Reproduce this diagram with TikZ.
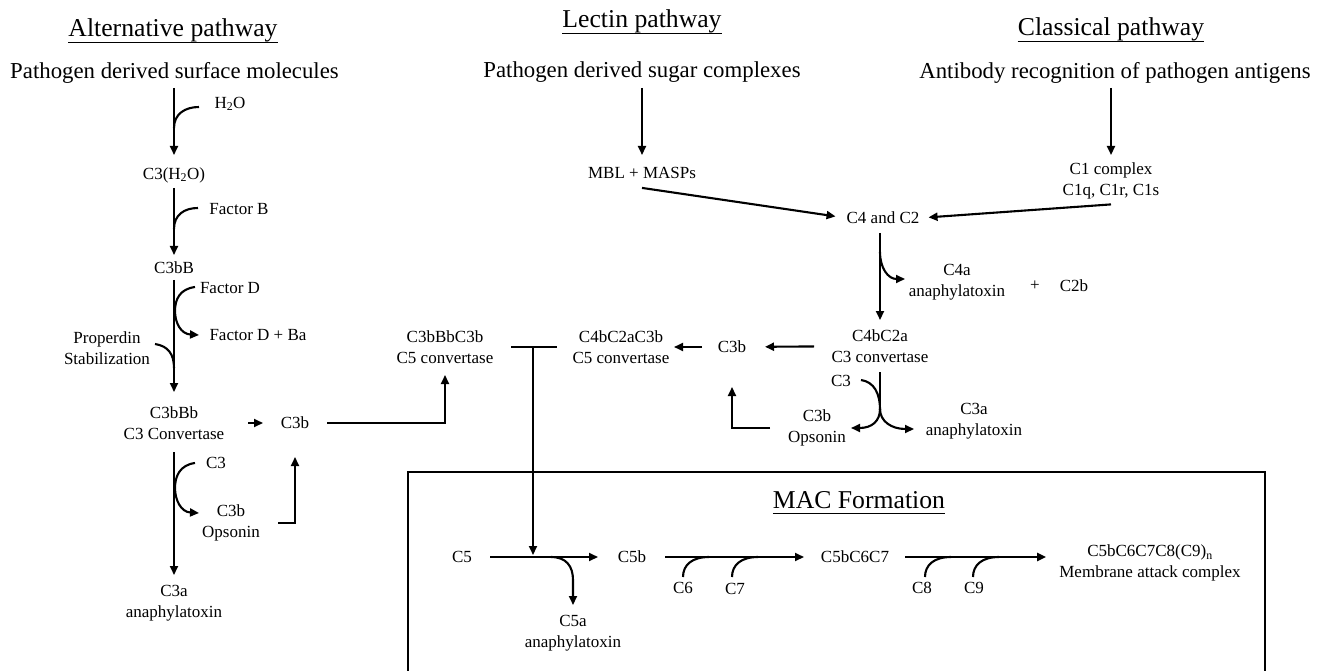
\documentclass[tikz,border=0pt]{standalone}
\usepackage{fontspec}
\setmainfont{Liberation Serif}
\usetikzlibrary{arrows.meta}
\begin{document}
\begin{tikzpicture}[x=1pt,y=-1pt,
  title/.style={font=\fontsize{25.7}{30}\selectfont, inner sep=0pt, anchor=base},
  sub/.style={font=\fontsize{22.8}{27}\selectfont, inner sep=0pt},
  lbl/.style={font=\fontsize{17}{21}\selectfont, inner sep=0pt, align=center},
  ln/.style={line width=2.1pt},
  arr/.style={line width=2.1pt, -{Triangle[length=9pt,width=8pt]}},
  ul/.style={line width=1.2pt},
  box/.style={line width=1.2pt}]
\useasboundingbox (0,0) rectangle (1318,671);
% titles
\node[title] (tAlt) at (173,37) {Alternative pathway};
\node[title] (tLec) at (642,28) {Lectin pathway};
\node[title] (tCla) at (1111,36) {Classical pathway};
\node[title] (tMAC) at (859,508) {MAC Formation};
\foreach \t in {tAlt,tLec,tCla,tMAC}
  \draw[ul] ([yshift=-5.5pt]\t.base west) -- ([yshift=-5.5pt]\t.base east);
\node[sub] (sAlt) at (174.5,72.5) {Pathogen derived surface molecules};
\node[sub] (sLec) at (642,72.5) {Pathogen derived sugar complexes};
\node[sub] (sCla) at (1115,72.5) {Antibody recognition of pathogen antigens};
% alternative pathway
\node[lbl] (c3h2o) at (174,175) {C3(H\textsubscript{2}O)};
\node[lbl] (h2o) at (230,104) {H\textsubscript{2}O};
\node[lbl] (fB) at (239,209) {Factor B};
\node[lbl] (c3bB) at (174,268) {C3bB};
\node[lbl] (fD) at (230,288) {Factor D};
\node[lbl] (fDBa) at (258,335) {Factor D + Ba};
\node[lbl] (prop) at (107,348) {Properdin\\Stabilization};
\node[lbl] (c3bBb) at (174,423) {C3bBb\\C3 Convertase};
\node[lbl] (c3inL) at (216,463) {C3};
\node[lbl] (c3bopL) at (231,523) {C3b\\Opsonin};
\node[lbl] (c3aL) at (174,603) {C3a\\anaphylatoxin};
\node[lbl] (c3bL) at (295,423) {C3b};
\node[lbl] (c5cA) at (445,347) {C3bBbC3b\\C5 convertase};
\node[lbl] (c5cL) at (621,347) {C4bC2aC3b\\C5 convertase};
\node[lbl] (c3bM) at (732,347) {C3b};
\node[lbl] (c3cv) at (880,346) {C4bC2a\\C3 convertase};
\node[lbl] (c3inR) at (841,381) {C3};
\node[lbl] (c3bopR) at (817,428) {C3b\\Opsonin};
\node[lbl] (c3aR) at (974,421) {C3a\\anaphylatoxin};
% lectin / classical
\node[lbl] (mbl) at (642,173) {MBL + MASPs};
\node[lbl] (c1) at (1111,181) {C1 complex\\C1q, C1r, C1s};
\node[lbl] (c4c2) at (883,218) {C4 and C2};
\node[lbl] (c4a) at (957,282) {C4a\\anaphylatoxin};
\node[lbl] (plus) at (1035,286) {+};
\node[lbl] (c2b) at (1074,286) {C2b};
% MAC
\node[lbl] (c5) at (462,557) {C5};
\node[lbl] (c5a) at (573,633) {C5a\\anaphylatoxin};
\node[lbl] (c5b) at (632,557) {C5b};
\node[lbl] (c6) at (683,588) {C6};
\node[lbl] (c7) at (735,589) {C7};
\node[lbl] (c567) at (855,557) {C5bC6C7};
\node[lbl] (c8) at (922,588) {C8};
\node[lbl] (c9) at (974,588) {C9};
\node[lbl] (mac) at (1150,563) {C5bC6C7C8(C9)\textsubscript{n}\\Membrane attack complex};

% ---- alternative pathway connectors
\draw[arr, shorten <=15.5pt, shorten >=20pt] (sAlt.center -| c3h2o.center) -- (c3h2o.center);
\draw[arr, shorten <=13pt, shorten >=13pt] (c3h2o.center) -- (c3bB.center);
\draw[arr, shorten <=12pt, shorten >=31pt] (c3bB.center) -- (c3bBb.center);
\draw[arr, shorten <=29pt, shorten >=28pt] (c3bBb.center) -- (c3aL.center);
\draw[ln] (199,107) .. controls (185,107) and (174,114) .. (174,128);
\draw[ln] (198,208) .. controls (184,208) and (174,215) .. (174,229);
\draw[arr] (195,287) .. controls (180,289) and (175,299) .. (175,311) .. controls (175,323) and (181,334) .. (199,335);
\draw[ln] (155,344) .. controls (168,346) and (174,354) .. (174,368);
\draw[arr] (195,463) .. controls (180,465) and (175,476) .. (175,488) .. controls (175,500) and (181,512) .. (199,513);
\coordinate (s0) at (248,423);
\draw[arr, shorten >=32pt] (s0) -- (c3bL.center);
\draw[arr, shorten <=32pt, shorten >=28pt] (c3bL.center) -| (c5cA.center);
\draw[arr, shorten <=47pt, shorten >=34pt] (c3bopL.center) -| (c3bL.center);
% T-bar to C5 cleavage
\draw[ln, shorten <=66pt, shorten >=64pt] (c5cA.center) -- (c5cL.center);
\coordinate (tj) at (533,347);
\coordinate (c5j) at (533,557);
\draw[arr, shorten >=2pt] (tj) -- (c5j);
% lectin / classical connectors
\draw[arr, shorten <=15.5pt, shorten >=18pt] (sLec.center) -- (mbl.center);
\draw[arr, shorten >=11pt] ([yshift=-9pt]mbl.south) -- (c4c2.west);
\draw[arr, shorten <=15.5pt, shorten >=26pt] (sCla.center -| c1.center) -- (c1.center);
\draw[arr, shorten >=9pt] ([yshift=-5pt]c1.south) -- (c4c2.east);
\draw[arr, shorten <=15pt, shorten >=26pt] (c4c2.center -| c3cv.center) -- (c3cv.center);
\draw[arr] (880,252) .. controls (880,268) and (888,279) .. (905,279);
\draw[arr, shorten <=66pt, shorten >=33pt] (c3cv.center) -- (c3bM.center);
\draw[arr, shorten <=30pt, shorten >=53pt] (c3bM.center) -- (c5cL.center);
\draw[arr, shorten <=47pt, shorten >=40pt] (c3bopR.center) -| (c3bM.center);
\coordinate (spR) at (880,409);
\draw[ln, shorten <=26pt] (c3cv.center) -- (spR);
\draw[arr] (spR) .. controls (880,421) and (872,428) .. (851,428);
\draw[arr] (spR) .. controls (880,421) and (891,429) .. (914,429);
\draw[ln] (861,380) .. controls (874,382) and (880,393) .. (880,410);
% MAC box
\draw[box] (408,671) -- (408,472) -- (1265,472) -- (1265,671);
\draw[arr, shorten <=28pt, shorten >=34pt] (c5.center) -- (c5b.center);
\draw[arr] (551,557) .. controls (566,557) and (573,566) .. (573,580) -- (573,605);
\draw[arr, shorten <=33pt, shorten >=51pt] (c5b.center) -- (c567.center);
\draw[ln] (683,577) .. controls (683,565) and (692,557) .. (709,557);
\draw[ln] (732,577) .. controls (732,565) and (741,557) .. (758,557);
\draw[arr, shorten <=50pt, shorten >=13pt] (c567.center) -- (c567.center -| mac.west);
\draw[ln] (925,577) .. controls (925,565) and (934,557) .. (951,557);
\draw[ln] (973,577) .. controls (973,565) and (982,557) .. (999,557);
\end{tikzpicture}
\end{document}
